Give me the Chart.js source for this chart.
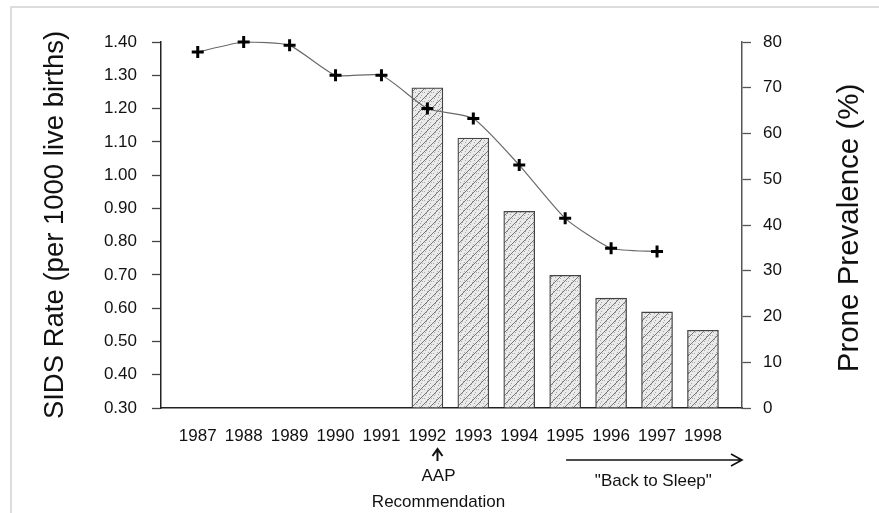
<!DOCTYPE html>
<html>
<head>
<meta charset="utf-8">
<script src="https://cdn.jsdelivr.net/npm/chart.js@4/dist/chart.umd.min.js"></script>
<style>
  html, body { margin: 0; padding: 0; background: #fff; }
  #wrap { position: relative; width: 879px; height: 513px; }
  #frame { position: absolute; left: 10px; top: 6px; right: 0; bottom: 0; border-top: 2px solid #dcdcdc; border-left: 2px solid #dcdcdc; pointer-events: none; }
</style>
</head>
<body>
<div id="wrap">
  <canvas id="grafico" width="879" height="513"></canvas>
  <div id="frame"></div>
</div>
<script>
// --- dados ---
const anos = [1987, 1988, 1989, 1990, 1991, 1992, 1993, 1994, 1995, 1996, 1997, 1998];
const taxaSIDS = [1.37, 1.40, 1.39, 1.30, 1.30, 1.20, 1.17, 1.03, 0.87, 0.78, 0.77, null];
const pronaPct = [null, null, null, null, null, 70, 59, 43, 29, 24, 21, 17];
const ticksEsq = [0.30, 0.40, 0.50, 0.60, 0.70, 0.80, 0.90, 1.00, 1.10, 1.20, 1.30, 1.40];
const ticksDir = [0, 10, 20, 30, 40, 50, 60, 70, 80];

const FONTE = '"Liberation Sans", Arial, Helvetica, sans-serif';

// textura hachurada das barras
function criarHachura() {
  const c = document.createElement('canvas');
  c.width = 9; c.height = 9;
  const g = c.getContext('2d');
  g.fillStyle = '#eaeaea';
  g.fillRect(0, 0, 9, 9);
  g.fillStyle = '#a8a8a8';
  [[1, 2], [5, 1], [7, 5], [3, 6], [2, 8], [6, 7], [4, 3], [8, 2]].forEach(([x, y]) => g.fillRect(x, y, 1, 1));
  g.strokeStyle = '#777';
  g.lineWidth = 1;
  g.beginPath();
  g.moveTo(0, 9); g.lineTo(9, 0);
  g.moveTo(-1, 1); g.lineTo(1, -1);
  g.moveTo(8, 10); g.lineTo(10, 8);
  g.stroke();
  return c;
}

const ctx = document.getElementById('grafico');
const hachura = ctx.getContext('2d').createPattern(criarHachura(), 'repeat');

// anotações abaixo do eixo x + título do eixo direito (lido de baixo para cima)
const anotacoes = {
  id: 'anotacoes',
  afterDraw(chart) {
    const c = chart.ctx;
    const x = chart.scales.x;
    const area = chart.chartArea;
    const base = area.bottom;
    c.save();
    c.strokeStyle = '#111';
    c.fillStyle = '#111';
    c.font = '17px ' + FONTE;
    c.textAlign = 'center';
    c.textBaseline = 'middle';

    // seta AAP
    const xa = x.getPixelForValue(1992.22);
    c.lineWidth = 2;
    c.beginPath();
    c.moveTo(xa, base + 41); c.lineTo(xa, base + 53);
    c.moveTo(xa - 5, base + 48); c.lineTo(xa, base + 41); c.lineTo(xa + 5, base + 48);
    c.stroke();
    c.fillText('AAP', xa + 1, base + 68);
    c.fillText('Recommendation', xa + 1, base + 94);

    // seta "Back to Sleep"
    const x1 = x.getPixelForValue(1995.02);
    const x2 = area.right;
    const ys = base + 52;
    c.lineWidth = 1.6;
    c.beginPath();
    c.moveTo(x1, ys); c.lineTo(x2, ys);
    c.moveTo(x2 - 11, ys - 6); c.lineTo(x2, ys); c.lineTo(x2 - 11, ys + 6);
    c.stroke();
    c.fillText('"Back to Sleep"', x.getPixelForValue(1996.92), base + 73);

    // título direito
    c.translate(chart.scales.yDir.right - 29, (area.top + area.bottom) / 2 + 3);
    c.rotate(-Math.PI / 2);
    c.font = '29.5px ' + FONTE;
    c.fillText('Prone Prevalence (%)', 0, 0);
    c.restore();
  }
};

new Chart(ctx, {
  type: 'bar',
  data: {
    datasets: [
      {
        type: 'line',
        label: 'SIDS Rate',
        data: anos.map((a, i) => ({ x: a, y: taxaSIDS[i] })),
        yAxisID: 'yEsq',
        borderColor: '#6a6a6a',
        borderWidth: 1.2,
        tension: 0.18,
        clip: false,
        pointStyle: 'cross',
        pointRadius: 6,
        pointBorderWidth: 3,
        pointBorderColor: '#000',
        order: 0
      },
      {
        type: 'bar',
        label: 'Prone Prevalence',
        data: anos.map((a, i) => ({ x: a, y: pronaPct[i] })),
        yAxisID: 'yDir',
        backgroundColor: hachura,
        borderColor: '#444',
        borderWidth: 1.3,
        borderSkipped: 'bottom',
        barThickness: 31,
        order: 1
      }
    ]
  },
  options: {
    responsive: false,
    animation: false,
    layout: { padding: { top: 42, left: 0, right: 0, bottom: 0 } },
    plugins: { legend: { display: false }, tooltip: { enabled: false } },
    scales: {
      x: {
        type: 'linear',
        offset: false,
        min: 1986.2,
        max: 1998.85,
        afterBuildTicks: (s) => { s.ticks = anos.map(v => ({ value: v })); },
        afterFit: (s) => { s.height = 105; },
        ticks: { callback: (v) => String(v), color: '#111', padding: 18, maxRotation: 0, autoSkip: false, font: { family: FONTE, size: 17 } },
        grid: { drawOnChartArea: false, drawTicks: false },
        border: { color: '#222', width: 1.5 }
      },
      yEsq: {
        position: 'left',
        min: 0.3,
        max: 1.4,
        afterBuildTicks: (s) => { s.ticks = ticksEsq.map(v => ({ value: v })); },
        afterFit: (s) => { s.width = 161; },
        ticks: { callback: (v) => v.toFixed(2), color: '#111', padding: 15, font: { family: FONTE, size: 17 } },
        grid: { drawOnChartArea: false, tickLength: 9, color: '#444', tickWidth: 1.3 },
        border: { color: '#222', width: 1.5 },
        title: { display: true, text: 'SIDS Rate (per 1000 live births)', color: '#111', padding: { top: 39, bottom: 0 }, font: { family: FONTE, size: 27.5 } }
      },
      yDir: {
        position: 'right',
        min: 0,
        max: 80,
        afterBuildTicks: (s) => { s.ticks = ticksDir.map(v => ({ value: v })); },
        afterFit: (s) => { s.width = 137; },
        ticks: { color: '#111', padding: 12, font: { family: FONTE, size: 17 } },
        grid: { drawOnChartArea: false, tickLength: 9, color: '#555', tickWidth: 1.3 },
        border: { color: '#555', width: 1.5 }
      }
    }
  },
  plugins: [anotacoes]
});
</script>
</body>
</html>
